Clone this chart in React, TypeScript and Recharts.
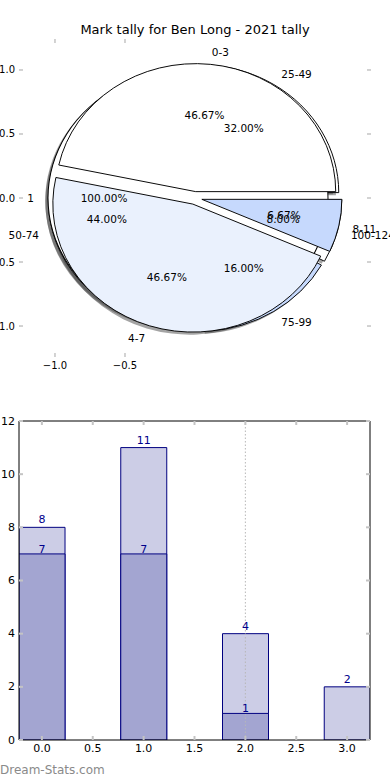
import React from 'react';
import {
  PieChart,
  Pie,
  Cell,
  ScatterChart,
  XAxis,
  YAxis,
  ComposedChart,
  Bar,
  LabelList,
  ReferenceLine,
} from 'recharts';

// ---------- data ----------
const chartTitle = 'Mark tally for Ben Long - 2021 tally';
const watermark = 'Dream-Stats.com';

const outerNames = ['1'];
const outerValues = [1];
const middleNames = ['25-49', '50-74', '75-99', '100-124'];
const middleValues = [8, 11, 4, 2];
const innerNames = ['0-3', '4-7', '8-11'];
const innerValues = [7, 7, 1];

const pieXTicks = [-1, -0.5];
const pieYTicks = [1, 0.5, 0, -0.5, -1];

const barCategories = [0, 1, 2, 3];
const barTotals = [8, 11, 4, 2];
const barLower: (number | null)[] = [7, 7, 1, null];
const barXTicks = [0, 0.5, 1, 1.5, 2, 2.5, 3];
const barYTicks = [0, 2, 4, 6, 8, 10, 12];

// ---------- styling / geometry ----------
const FONT = '"DejaVu Sans", sans-serif';
const wedgeColors = ['#ffffff', '#eaf1fd', '#c6d9fd', '#ffffff'];
const CX = 195;
const CY = 198;
const R = 140;
const KY = 128 / 140;
const EXPLODE = 0.05;
const SHADOW = 0.02;
const TICK_GRAY = '#c4c4c4';

const fmtPie = (v: number) => (v < 0 ? '\u2212' : '') + Math.abs(v).toFixed(1);

// ---------- pie helpers ----------
type Mode = 'shadow' | 'wedge';

function wedgePies(values: number[], prefix: string, mode: Mode) {
  const data = values.map((v, i) => ({ value: v, idx: i }));
  const total = values.reduce((a, b) => a + b, 0);
  const full = values.length === 1;
  let acc = 0;
  const out: React.ReactNode[] = [];
  values.forEach((v, i) => {
    const mid = ((acc + v / 2) / total) * 2 * Math.PI;
    acc += v;
    const dx = EXPLODE * R * Math.cos(mid) + (mode === 'shadow' ? -SHADOW * R : 0);
    const dy = -EXPLODE * R * Math.sin(mid) + (mode === 'shadow' ? SHADOW * R : 0);
    out.push(
      <Pie
        key={`${prefix}-${mode}-${i}`}
        data={data}
        dataKey="value"
        cx={CX + dx}
        cy={CY + dy}
        innerRadius={0}
        outerRadius={R}
        startAngle={0}
        endAngle={360}
        isAnimationActive={false}
        labelLine={false}
        label={false}
      >
        {data.map((_, j) => (
          <Cell
            key={j}
            fill={j === i ? (mode === 'shadow' ? '#4a4a4a' : wedgeColors[j % wedgeColors.length]) : 'none'}
            fillOpacity={mode === 'shadow' ? 0.5 : 1}
            stroke={j === i && mode === 'wedge' && !full ? '#000' : 'none'}
            strokeWidth={1}
          />
        ))}
      </Pie>
    );
    if (full && mode === 'wedge') {
      // full-circle wedge: outline only, without a radial edge
      out.push(
        <Pie
          key={`${prefix}-ring-${i}`}
          data={data}
          dataKey="value"
          cx={CX + dx}
          cy={CY + dy}
          innerRadius={R - 0.5}
          outerRadius={R + 0.5}
          startAngle={0}
          endAngle={360}
          fill="#000"
          stroke="none"
          isAnimationActive={false}
          labelLine={false}
          label={false}
        />
      );
    }
  });
  return out;
}

const renderPieLabel = (props: any) => {
  const midAngle: number = props.midAngle;
  const percent: number = props.percent;
  const name: string = props.name ?? props.payload?.name;
  const a = (midAngle * Math.PI) / 180;
  const ex = CX + EXPLODE * R * Math.cos(a);
  const ey = CY - EXPLODE * R * Math.sin(a);
  const lx = ex + 1.1 * R * Math.cos(a);
  const ly = CY + (ey - 1.1 * R * Math.sin(a) - CY) * KY;
  const px = ex + 0.6 * R * Math.cos(a);
  const py = CY + (ey - 0.6 * R * Math.sin(a) - CY) * KY;
  return (
    <g>
      <text
        x={lx}
        y={ly}
        textAnchor={Math.cos(a) > 0 ? 'start' : 'end'}
        dominantBaseline="central"
        fontSize={10.5}
        fontFamily={FONT}
        fill="#000"
      >
        {name}
      </text>
      <text
        x={px}
        y={py}
        textAnchor="middle"
        dominantBaseline="central"
        fontSize={10.5}
        fontFamily={FONT}
        fill="#000"
      >
        {(percent * 100).toFixed(2)}%
      </text>
    </g>
  );
};

function labelPie(values: number[], names: string[], prefix: string) {
  const data = values.map((v, i) => ({ value: v, name: names[i] }));
  return (
    <Pie
      key={`${prefix}-labels`}
      data={data}
      dataKey="value"
      nameKey="name"
      cx={CX}
      cy={CY}
      outerRadius={R}
      startAngle={0}
      endAngle={360}
      fill="none"
      stroke="none"
      isAnimationActive={false}
      labelLine={false}
      label={renderPieLabel}
    />
  );
}

// ---------- tick renderers ----------
const PieLeftTick = (p: any) => (
  <g>
    <line x1={p.x} x2={p.x + 4} y1={p.y} y2={p.y} stroke={TICK_GRAY} strokeWidth={1.5} />
    <text x={p.x - 4} y={p.y} textAnchor="end" dominantBaseline="central" fontSize={10} fontFamily={FONT} fill="#000">
      {fmtPie(p.payload.value)}
    </text>
  </g>
);
const PieRightTick = (p: any) => (
  <line x1={p.x - 4} x2={p.x} y1={p.y} y2={p.y} stroke={TICK_GRAY} strokeWidth={1.5} />
);
const PieBottomTick = (p: any) => (
  <g>
    <line x1={p.x} x2={p.x} y1={p.y - 4} y2={p.y} stroke={TICK_GRAY} strokeWidth={1.5} />
    <text x={p.x} y={p.y + 8} textAnchor="middle" dominantBaseline="central" fontSize={10} fontFamily={FONT} fill="#000">
      {fmtPie(p.payload.value)}
    </text>
  </g>
);
const PieTopTick = (p: any) => (
  <line x1={p.x} x2={p.x} y1={p.y} y2={p.y + 4} stroke={TICK_GRAY} strokeWidth={1.5} />
);

const BarLeftTick = (p: any) => (
  <g>
    <line x1={p.x} x2={p.x + 4} y1={p.y} y2={p.y} stroke={TICK_GRAY} strokeWidth={2} />
    <text x={p.x - 4} y={p.y} textAnchor="end" dominantBaseline="central" fontSize={11} fontFamily={FONT} fill="#000">
      {String(p.payload.value)}
    </text>
  </g>
);
const BarRightTick = (p: any) => (
  <line x1={p.x - 4} x2={p.x} y1={p.y} y2={p.y} stroke={TICK_GRAY} strokeWidth={2} />
);
const BarBottomTick = (p: any) => (
  <g>
    <line x1={p.x} x2={p.x} y1={p.y - 4} y2={p.y} stroke={TICK_GRAY} strokeWidth={2} />
    <text x={p.x} y={p.y + 8.5} textAnchor="middle" dominantBaseline="central" fontSize={11} fontFamily={FONT} fill="#000">
      {Number(p.payload.value).toFixed(1)}
    </text>
  </g>
);
const BarTopTick = (p: any) => (
  <line x1={p.x} x2={p.x} y1={p.y} y2={p.y + 4} stroke={TICK_GRAY} strokeWidth={2} />
);

const barData = barCategories.map((c, i) => ({ x: c, total: barTotals[i], lower: barLower[i] }));
const pieAxisData = [{ x: 0, y: 0 }];

const axisCommon = {
  tickLine: false,
  tickSize: 0,
  tickMargin: 0,
  interval: 0 as const,
  allowDataOverflow: true,
};

export default function App() {
  return (
    <div
      style={{
        position: 'absolute',
        left: 0,
        top: 0,
        width: 390,
        height: 780,
        background: '#fff',
        overflow: 'hidden',
        fontFamily: FONT,
      }}
    >
      <style>{`.pieWrap .recharts-sector{transform:scaleY(${KY});transform-origin:${CX}px ${CY}px;}`}</style>

      <div
        style={{
          position: 'absolute',
          top: 22,
          left: 0,
          width: 390,
          textAlign: 'center',
          fontSize: 13,
          lineHeight: '16px',
          color: '#000',
        }}
      >
        {chartTitle}
      </div>

      {/* pie axes (frame hidden, ticks only) */}
      <div style={{ position: 'absolute', top: 0, left: 0 }}>
        <ScatterChart width={390} height={400} margin={{ top: 38, right: 18, bottom: 42, left: 18 }}>
          <XAxis
            {...axisCommon}
            xAxisId="b"
            type="number"
            dataKey="x"
            domain={[-1.257, 1.257]}
            ticks={pieXTicks}
            axisLine={false}
            height={1}
            tick={PieBottomTick}
          />
          <XAxis
            {...axisCommon}
            xAxisId="t"
            orientation="top"
            type="number"
            dataKey="x"
            domain={[-1.257, 1.257]}
            ticks={pieXTicks}
            axisLine={false}
            height={1}
            tick={PieTopTick}
          />
          <YAxis
            {...axisCommon}
            yAxisId="l"
            type="number"
            dataKey="y"
            domain={[-1.242, 1.242]}
            ticks={pieYTicks}
            axisLine={false}
            width={1}
            tick={PieLeftTick}
          />
          <YAxis
            {...axisCommon}
            yAxisId="r"
            orientation="right"
            type="number"
            dataKey="y"
            domain={[-1.242, 1.242]}
            ticks={pieYTicks}
            axisLine={false}
            width={1}
            tick={PieRightTick}
          />
        </ScatterChart>
      </div>

      {/* pies: middle ring first, then the full "1" pie, then the top pie */}
      <div className="pieWrap" style={{ position: 'absolute', top: 0, left: 0 }}>
        <PieChart width={390} height={400} margin={{ top: 0, right: 0, bottom: 0, left: 0 }}>
          {wedgePies(middleValues, 'middle', 'shadow')}
          {wedgePies(outerValues, 'outer', 'shadow')}
          {wedgePies(innerValues, 'inner', 'shadow')}
          {wedgePies(middleValues, 'middle', 'wedge')}
          {wedgePies(outerValues, 'outer', 'wedge')}
          {wedgePies(innerValues, 'inner', 'wedge')}
          {labelPie(middleValues, middleNames, 'middle')}
          {labelPie(outerValues, outerNames, 'outer')}
          {labelPie(innerValues, innerNames, 'inner')}
        </PieChart>
      </div>

      {/* bar chart */}
      <div style={{ position: 'absolute', top: 400, left: 0 }}>
        <ComposedChart width={390} height={380} data={barData} margin={{ top: 20, right: 19, bottom: 39, left: 18 }}>
          <XAxis
            {...axisCommon}
            xAxisId="a"
            type="number"
            dataKey="x"
            domain={[-0.225, 3.225]}
            ticks={barXTicks}
            axisLine={{ stroke: '#000', strokeWidth: 1 }}
            height={1}
            tick={BarBottomTick}
          />
          <XAxis xAxisId="b" type="number" dataKey="x" domain={[-0.225, 3.225]} hide allowDataOverflow />
          <XAxis
            {...axisCommon}
            xAxisId="top"
            orientation="top"
            type="number"
            dataKey="x"
            domain={[-0.225, 3.225]}
            ticks={barXTicks}
            axisLine={{ stroke: '#000', strokeWidth: 1 }}
            height={1}
            tick={BarTopTick}
          />
          <YAxis
            {...axisCommon}
            yAxisId="l"
            type="number"
            domain={[0, 12]}
            ticks={barYTicks}
            axisLine={{ stroke: '#000', strokeWidth: 1 }}
            width={1}
            tick={BarLeftTick}
          />
          <YAxis
            {...axisCommon}
            yAxisId="r"
            orientation="right"
            type="number"
            domain={[0, 12]}
            ticks={barYTicks}
            axisLine={{ stroke: '#000', strokeWidth: 1 }}
            width={1}
            tick={BarRightTick}
          />
          <Bar
            xAxisId="a"
            yAxisId="l"
            dataKey="total"
            barSize={46}
            fill="#cccde6"
            stroke="#000080"
            strokeWidth={1}
            isAnimationActive={false}
          >
            <LabelList
              dataKey="total"
              position="top"
              offset={4}
              fill="#00008b"
              fontSize={11}
              fontFamily={FONT}
              formatter={(v: any) => (v == null ? '' : String(v))}
            />
          </Bar>
          <Bar
            xAxisId="b"
            yAxisId="l"
            dataKey="lower"
            barSize={46}
            fill="#a3a5d1"
            stroke="#000080"
            strokeWidth={1}
            isAnimationActive={false}
          >
            <LabelList
              dataKey="lower"
              position="top"
              offset={1}
              fill="#00008b"
              fontSize={11}
              fontFamily={FONT}
              formatter={(v: any) => (v == null ? '' : String(v))}
            />
          </Bar>
          <ReferenceLine xAxisId="a" yAxisId="l" x={2} stroke="#b8b8b8" strokeDasharray="1.5 2" strokeWidth={1} />
        </ComposedChart>
      </div>

      <div
        style={{
          position: 'absolute',
          left: 0,
          top: 762,
          fontSize: 12,
          lineHeight: '16px',
          color: '#8a8a8a',
          fontFamily: FONT,
        }}
      >
        {watermark}
      </div>
    </div>
  );
}
